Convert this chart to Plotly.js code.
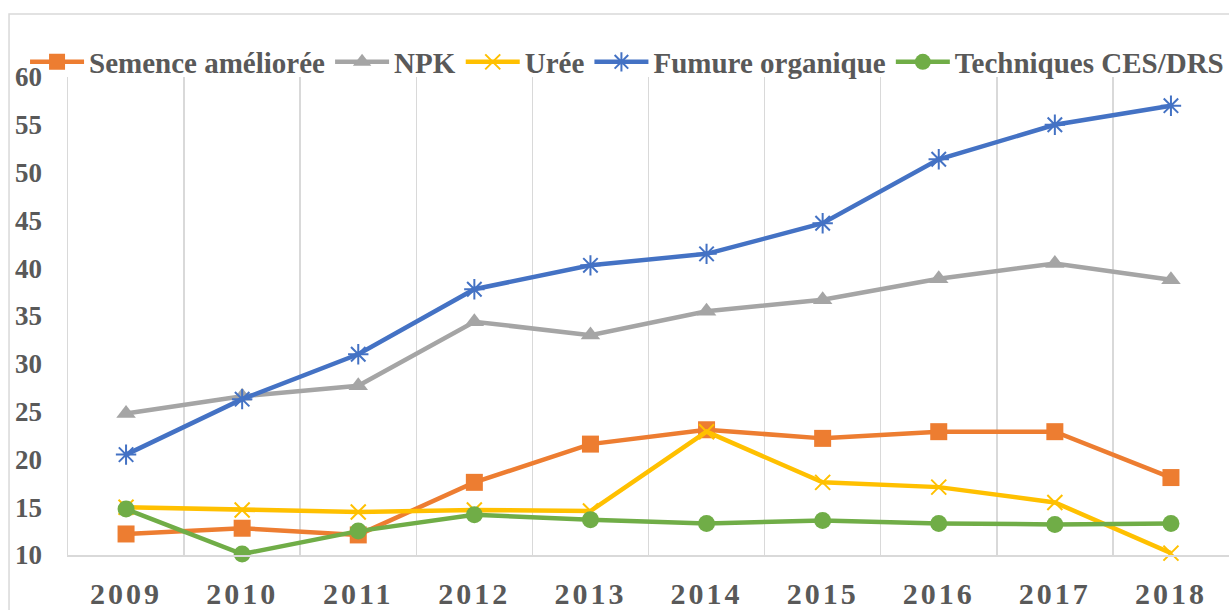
<!DOCTYPE html>
<html>
<head>
<meta charset="utf-8">
<script src="https://cdn.plot.ly/plotly-3.0.1.min.js"></script>
<style>
  html, body { margin: 0; padding: 0; background: #ffffff; }
  #chart { width: 1229px; height: 610px; }
  .xtick text { letter-spacing: 3px; }
</style>
</head>
<body>
<div id="chart"></div>
<script>
const years = ["2009", "2010", "2011", "2012", "2013", "2014", "2015", "2016", "2017", "2018"];
const semence = [12.2, 12.8, 12.1, 17.6, 21.6, 23.1, 22.2, 22.9, 22.9, 18.1];
const npk = [24.8, 26.6, 27.7, 34.4, 33.0, 35.5, 36.7, 38.9, 40.5, 38.8];
const uree = [15.0, 14.7, 14.5, 14.7, 14.6, 22.9, 17.6, 17.1, 15.5, 10.2];
const fumure = [20.5, 26.3, 31.0, 37.8, 40.3, 41.5, 44.7, 51.4, 55.0, 57.0];
const ces = [14.8, 10.1, 12.5, 14.2, 13.7, 13.3, 13.6, 13.3, 13.2, 13.3];
const seriesNames = ["Semence améliorée", "NPK", "Urée", "Fumure organique", "Techniques CES/DRS"];
const yTicks = [10, 15, 20, 25, 30, 35, 40, 45, 50, 55, 60];

const font = "'Liberation Serif', 'Times New Roman', serif";
const txt = "#595959";

function tr(name, y, color, symbol, size, open) {
  const m = { symbol: symbol, size: size, color: color };
  if (open) { m.line = { color: color, width: 2 }; }
  return {
    type: "scatter", mode: "lines+markers", name: name, x: years, y: y,
    line: { color: color, width: 4.5 }, marker: m, cliponaxis: false
  };
}

const data = [
  tr(seriesNames[0], semence, "#ED7D31", "square", 17, false),
  tr(seriesNames[1], npk, "#A5A5A5", "triangle-up", 17, false),
  tr(seriesNames[2], uree, "#FFC000", "x-thin-open", 15, true),
  tr(seriesNames[3], fumure, "#4472C4", "asterisk-open", 17, true),
  tr(seriesNames[4], ces, "#70AD47", "circle", 17, false)
];

const layout = {
  width: 1229, height: 610,
  margin: { l: 68, r: 0, t: 77, b: 55, autoexpand: false },
  paper_bgcolor: "#ffffff", plot_bgcolor: "#ffffff",
  showlegend: true,
  legend: {
    orientation: "h",
    x: -0.037, xanchor: "left",
    y: 1.0314, yanchor: "middle",
    font: { family: font, size: 29, color: txt, weight: "bold" },
    itemwidth: 54, bgcolor: "rgba(0,0,0,0)"
  },
  xaxis: {
    type: "category", range: [-0.5, years.length - 0.5],
    tickson: "boundaries", showgrid: true,
    gridcolor: "#d9d9d9", gridwidth: 1.5, automargin: false,
    showline: true, linecolor: "#d9d9d9", linewidth: 1.5,
    ticks: "outside", ticklen: 18, tickcolor: "rgba(0,0,0,0)",
    ticklabelstandoff: 11,
    tickfont: { family: font, size: 30, color: txt, weight: "bold" },
    zeroline: false, fixedrange: true
  },
  yaxis: {
    range: [10, 60], tickvals: yTicks, ticktext: yTicks.map(String),
    showgrid: false, zeroline: false, automargin: false,
    showline: true, linecolor: "#d9d9d9", linewidth: 1.5,
    ticks: "outside", ticklen: 19, tickcolor: "rgba(0,0,0,0)",
    tickfont: { family: font, size: 27, color: txt, weight: "bold" },
    fixedrange: true
  },
  shapes: [{
    type: "rect", xref: "paper", yref: "paper",
    x0: -0.0508, x1: 1.2, y0: -0.3, y1: 1.1318,
    line: { color: "#d9d9d9", width: 1.5 }, fillcolor: "rgba(0,0,0,0)", layer: "below"
  }]
};

Plotly.newPlot("chart", data, layout, { displayModeBar: false, staticPlot: true });
</script>
</body>
</html>
